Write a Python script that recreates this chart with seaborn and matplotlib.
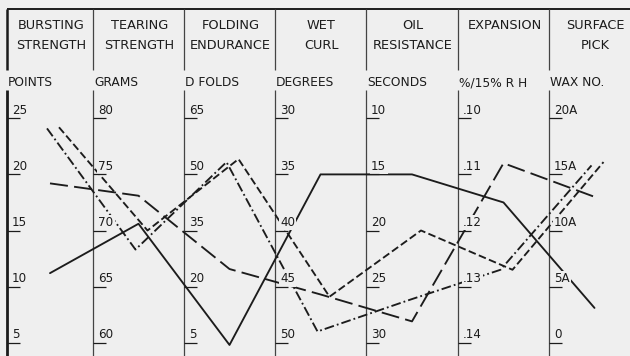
import matplotlib
matplotlib.use("Agg")
import matplotlib.pyplot as plt
import pandas as pd
import seaborn as sns

# ---- property columns -------------------------------------------------
header_top = ["BURSTING", "TEARING", "FOLDING", "WET", "OIL", "EXPANSION", "SURFACE"]
header_bottom = ["STRENGTH", "STRENGTH", "ENDURANCE", "CURL", "RESISTANCE", "", "PICK"]
units = ["POINTS", "GRAMS", "D FOLDS", "DEGREES", "SECONDS", "%/15% R H", "WAX NO."]

# tick values of each column, listed from the top tick to the bottom tick
bursting_ticks = [25, 20, 15, 10, 5]
tearing_ticks = [80, 75, 70, 65, 60]
folding_ticks = [65, 50, 35, 20, 5]
curl_ticks = [30, 35, 40, 45, 50]
oil_ticks = [10, 15, 20, 25, 30]
expansion_ticks = [0.10, 0.11, 0.12, 0.13, 0.14]
pick_ticks = [20, 15, 10, 5, 0]

bursting_labels = ["25", "20", "15", "10", "5"]
tearing_labels = ["80", "75", "70", "65", "60"]
folding_labels = ["65", "50", "35", "20", "5"]
curl_labels = ["30", "35", "40", "45", "50"]
oil_labels = ["10", "15", "20", "25", "30"]
expansion_labels = [".10", ".11", ".12", ".13", ".14"]
pick_labels = ["20A", "15A", "10A", "5A", "0"]

# ---- paper samples (bursting, tearing, folding, curl, oil, expansion, pick)
sample_a = [11.2, 70.6, 4.4, 35.0, 15.0, 0.115, 3.1]      # solid
sample_b = [19.2, 73.1, 24.7, 45.7, 28.1, 0.108, 13.0]    # long dash
sample_c = [24.2, 70.0, 54.1, 45.9, 20.0, 0.127, 16.1]    # dashed
sample_d = [24.1, 68.3, 53.3, 49.0, 26.2, 0.127, 15.8]    # dash-dot

tick_sets = [bursting_ticks, tearing_ticks, folding_ticks, curl_ticks,
             oil_ticks, expansion_ticks, pick_ticks]
label_sets = [bursting_labels, tearing_labels, folding_labels, curl_labels,
              oil_labels, expansion_labels, pick_labels]

# ---- layout (pixels) ---------------------------------------------------
W, H = 630, 356
EDGES = [7, 93, 184, 275, 366, 458, 549, 640]
MIDS = [(EDGES[i] + EDGES[i + 1]) / 2 for i in range(7)]
TICK0, STEP = 118.3, 56.1          # first tick row and row spacing
AXIS_TOP = 90
BG = "#efefef"
INK = "#1c1c1c"

sns.set_theme(style="white")
plt.rcParams["font.family"] = ["DejaVu Sans"]
plt.rcParams["lines.scale_dashes"] = False

fig = plt.figure(figsize=(W / 100, H / 100), dpi=100, facecolor=BG)

# header frame drawn in pixel units
frame = fig.add_axes([0, 0, 1, 1], zorder=0)
frame.set_xlim(0, W)
frame.set_ylim(H, 0)
frame.axis("off")
frame.hlines(9, EDGES[0], W, color=INK, lw=1.4)
frame.vlines(EDGES[0], 9, 70, color=INK, lw=1.8)
frame.vlines(EDGES[1:7], 9, 70, color="#444444", lw=0.9)
for i in range(7):
    frame.text(MIDS[i] + 1, 25.5, header_top[i], ha="center", va="center",
               fontsize=9.3, color=INK)
    if header_bottom[i]:
        frame.text(MIDS[i] + 1, 45.5, header_bottom[i], ha="center", va="center",
                   fontsize=9.3, color=INK)
    frame.text(EDGES[i] + 1, 83, units[i], ha="left", va="center",
               fontsize=8.8, color=INK)

# chart area: x in pixels, y in tick rows (0 = top tick, 4 = bottom tick)
ax = fig.add_axes([0, 0, 1, 1], zorder=1)
ax.patch.set_alpha(0)
ax.set_xlim(0, W)
ax.set_ylim((H - TICK0) / STEP, -TICK0 / STEP)
ax.axis("off")

y_axis_top = (AXIS_TOP - TICK0) / STEP
y_axis_bottom = (H - TICK0) / STEP
ax.vlines(EDGES[0], y_axis_top, y_axis_bottom, color=INK, lw=2.0, zorder=1)
ax.vlines(EDGES[1:7], y_axis_top, y_axis_bottom, color="#444444", lw=0.9, zorder=1)

px = 1 / STEP
for i in range(7):
    for k, lab in enumerate(label_sets[i]):
        ax.plot([EDGES[i], EDGES[i] + 13], [k, k], color=INK, lw=0.9,
                zorder=6, solid_capstyle="butt")
        ax.text(EDGES[i] + 5, k - 4.5 * px, lab, ha="left", va="baseline",
                fontsize=8.6, color=INK, zorder=5,
                bbox=dict(boxstyle="square,pad=0.12", fc=BG, ec="none"))


def to_row(col, value):
    ticks = tick_sets[col]
    return (value - ticks[0]) / (ticks[-1] - ticks[0]) * (len(ticks) - 1)


samples = {"A": sample_a, "B": sample_b, "C": sample_c, "D": sample_d}
dodge = {"A": 0, "B": 0, "C": 9, "D": -3}
rows = []
for name, values in samples.items():
    for col, v in enumerate(values):
        rows.append({"sample": name, "x": MIDS[col] + dodge[name],
                     "row": to_row(col, v)})
df = pd.DataFrame(rows)

dash_styles = {"A": "", "B": (13, 4.5), "C": (5.5, 2.4), "D": (7, 2.2, 1.3, 2.2)}
sns.lineplot(data=df, x="x", y="row", style="sample", dashes=dash_styles,
             color=INK, lw=1.35, estimator=None, sort=False, legend=False,
             ax=ax, zorder=2)
ax.set_xlim(0, W)
ax.set_ylim((H - TICK0) / STEP, -TICK0 / STEP)
ax.axis("off")

fig.savefig("out.png", dpi=100, facecolor=BG)
